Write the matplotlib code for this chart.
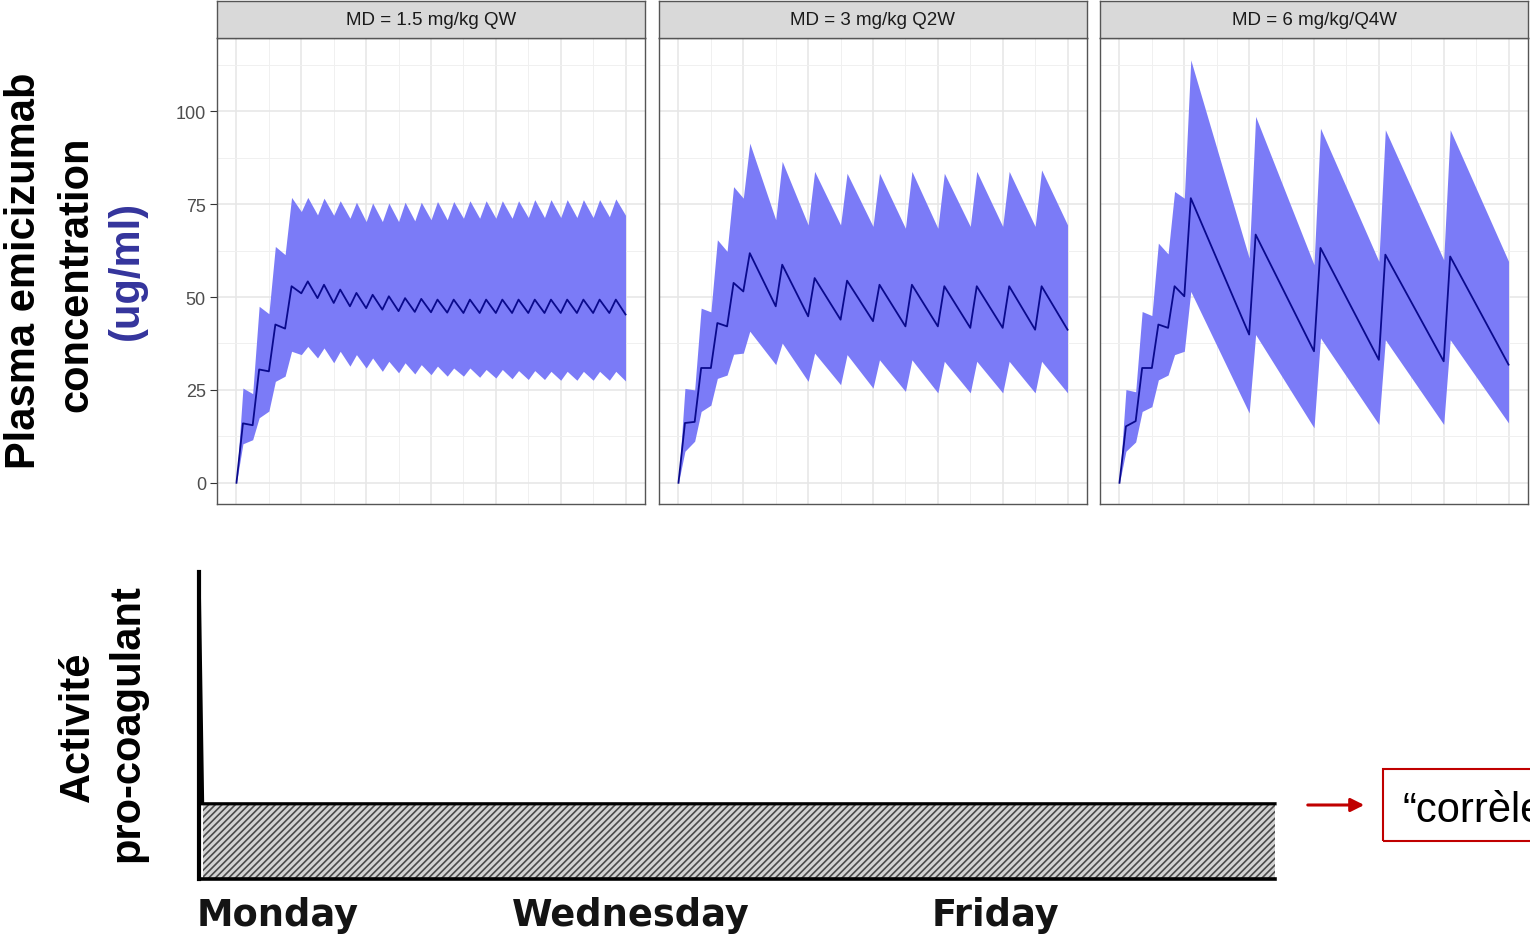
import numpy as np
import matplotlib
matplotlib.use("Agg")
import matplotlib.pyplot as plt
from matplotlib.patches import Rectangle, FancyArrowPatch
from matplotlib.ticker import MultipleLocator

plt.rcParams['font.family'] = ['Liberation Sans', 'DejaVu Sans']
plt.rcParams['hatch.linewidth'] = 1.2

# ---- top row: simulated emicizumab concentration (weeks, ug/ml) ----
panel_titles = ["MD = 1.5 mg/kg QW", "MD = 3 mg/kg Q2W", "MD = 6 mg/kg/Q4W"]

# 4 weekly loading doses, then maintenance
qw_doses = [0, 1, 2, 3, 4, 5, 6, 7, 8, 9, 10, 11, 12, 13, 14, 15, 16, 17, 18, 19, 20, 21, 22, 23]
q2w_doses = [0, 1, 2, 3, 4, 6, 8, 10, 12, 14, 16, 18, 20, 22]
q4w_doses = [0, 1, 2, 3, 4, 8, 12, 16, 20]

# value just before each dose / peak after each dose / value at week 24
qw_med_trough = [0, 15.5, 30.0, 41.5, 51.0, 49.7, 48.4, 47.5, 47.0, 46.6, 46.2, 46.0,
                 45.9, 45.8, 45.7, 45.7, 45.7, 45.7, 45.7, 45.7, 45.7, 45.7, 45.7, 45.7]
qw_med_peak = [16.0, 30.5, 42.6, 52.9, 54.2, 53.3, 52.0, 51.1, 50.6, 50.2, 49.7, 49.5,
               49.3, 49.3, 49.3, 49.3, 49.3, 49.3, 49.3, 49.3, 49.3, 49.3, 49.3, 49.3]
qw_hi_trough = [0, 24.0, 45.5, 61.4, 73.0, 72.1, 72.0, 71.2, 70.3, 70.3, 70.3, 70.5,
                70.8, 70.8, 71.2, 71.2, 71.2, 71.2, 71.4, 71.4, 71.4, 71.4, 71.4, 71.6]
qw_hi_peak = [25.5, 47.5, 63.6, 76.8, 76.8, 76.6, 75.9, 75.5, 75.3, 75.3, 75.5, 75.5,
              75.7, 75.7, 75.9, 75.9, 75.9, 75.9, 76.2, 76.2, 76.2, 76.2, 76.2, 76.4]
qw_lo_trough = [0, 11.6, 19.3, 28.7, 34.5, 33.6, 32.3, 31.4, 30.9, 30.0, 29.6, 29.3,
                29.1, 28.7, 28.7, 28.4, 28.2, 28.0, 27.8, 27.8, 27.6, 27.6, 27.6, 27.6]
qw_lo_peak = [10.5, 17.5, 27.3, 35.4, 36.7, 36.3, 35.4, 34.5, 33.6, 32.7, 32.3, 31.8,
              31.4, 30.9, 30.9, 30.5, 30.5, 30.2, 30.2, 30.0, 30.0, 30.0, 30.0, 30.0]
qw_end = [45.3, 72.0, 27.4]  # median, upper, lower

q2w_med_trough = [0, 16.4, 30.9, 42.1, 51.5, 47.5, 44.8, 43.9, 43.5, 42.1, 42.1, 41.7, 41.7, 41.2]
q2w_med_peak = [16.1, 30.9, 43.0, 53.8, 61.8, 58.7, 55.1, 54.4, 53.3, 53.3, 52.9, 52.9, 52.9, 52.9]
q2w_hi_trough = [0, 25.0, 46.0, 62.3, 76.6, 70.8, 69.4, 69.4, 69.0, 68.5, 68.5, 69.0, 69.0, 69.0]
q2w_hi_peak = [25.4, 47.0, 65.4, 79.7, 91.4, 86.5, 83.8, 83.3, 83.3, 83.8, 83.3, 83.8, 83.8, 84.2]
q2w_lo_trough = [0, 11.2, 20.9, 29.0, 34.9, 31.8, 27.3, 26.4, 25.5, 24.6, 24.2, 24.2, 24.2, 24.2]
q2w_lo_peak = [8.5, 19.2, 28.1, 34.6, 40.8, 37.6, 34.9, 34.5, 33.1, 33.1, 32.7, 32.7, 32.7, 32.7]
q2w_end = [41.2, 69.4, 24.2]

q4w_med_trough = [0, 16.6, 30.9, 41.7, 50.2, 39.9, 35.4, 33.1, 32.7]
q4w_med_peak = [15.2, 30.9, 42.6, 52.9, 76.6, 66.8, 63.2, 61.4, 60.9]
q4w_hi_trough = [0, 24.5, 45.0, 61.6, 76.6, 60.5, 58.7, 59.6, 60.0]
q4w_hi_peak = [25.1, 46.1, 64.5, 78.4, 113.8, 98.6, 95.4, 95.0, 95.0]
q4w_lo_trough = [0, 11.0, 20.5, 29.0, 35.4, 18.8, 14.8, 15.7, 15.7]
q4w_lo_peak = [8.5, 19.2, 27.7, 34.5, 51.5, 39.9, 39.0, 38.5, 38.5]
q4w_end = [31.8, 59.6, 16.1]

y_ticks = [0, 25, 50, 75, 100]

# ---- bottom row: schematic pro-coagulant activity ----
day_labels = ["Monday", "Wednesday", "Friday"]
day_ticks = [0.44, 2.41, 4.44]
activity_days = [0.0, 0.02, 6.0]
activity_level = [1.0, 0.245, 0.245]

BAND = '#7b7bf7'
LINE = '#0a0a8c'


def sawtooth(doses, troughs, peaks, end_value, t_end=24.0, lag=0.4):
    # pre-dose value at each dose, peak shortly after, last point at t_end
    t, c = [], []
    for d, lo, hi in zip(doses, troughs, peaks):
        t += [d, d + lag]
        c += [lo, hi]
    t.append(t_end)
    c.append(end_value)
    return np.array(t), np.array(c)


panels = [
    (qw_doses, qw_med_trough, qw_med_peak, qw_hi_trough, qw_hi_peak, qw_lo_trough, qw_lo_peak, qw_end),
    (q2w_doses, q2w_med_trough, q2w_med_peak, q2w_hi_trough, q2w_hi_peak, q2w_lo_trough, q2w_lo_peak, q2w_end),
    (q4w_doses, q4w_med_trough, q4w_med_peak, q4w_hi_trough, q4w_hi_peak, q4w_lo_trough, q4w_lo_peak, q4w_end),
]

W, H = 1530, 937
fig = plt.figure(figsize=(W / 100, H / 100), dpi=100)


def fx(px):
    return px / W


def fy(py):
    return 1 - py / H


panel_left = [217, 659, 1100]
for i, (doses, mtr, mpk, htr, hpk, ltr, lpk, end) in enumerate(panels):
    ax = fig.add_axes([fx(panel_left[i]), fy(505), 428 / W, 466 / H])
    t, med = sawtooth(doses, mtr, mpk, end[0])
    _, hi = sawtooth(doses, htr, hpk, end[1])
    _, lo = sawtooth(doses, ltr, lpk, end[2])
    ax.fill_between(t, lo, hi, color=BAND, lw=0, zorder=2)
    ax.plot(t, med, color=LINE, lw=1.3, zorder=3)

    ax.set_xlim(-1.2, 25.2)
    ax.set_ylim(-5.7, 119.7)
    ax.xaxis.set_major_locator(MultipleLocator(4))
    ax.xaxis.set_minor_locator(MultipleLocator(2))
    ax.set_yticks(y_ticks)
    ax.yaxis.set_minor_locator(MultipleLocator(12.5))
    ax.grid(which='major', color='#e6e6e6', lw=1.1)
    ax.grid(which='minor', color='#f0f0f0', lw=0.7)
    ax.set_axisbelow(True)
    ax.tick_params(axis='x', which='both', length=0, labelbottom=False)
    ax.tick_params(axis='y', which='minor', length=0)
    if i == 0:
        ax.tick_params(axis='y', which='major', length=5, width=0.8, color='#333333',
                       labelsize=13, labelcolor='#4d4d4d', pad=3)
    else:
        ax.tick_params(axis='y', which='major', length=0, labelleft=False)
    for sp in ax.spines.values():
        sp.set_color('#555555')
        sp.set_linewidth(1.0)

    strip = fig.add_axes([fx(panel_left[i]), fy(39), 428 / W, 37 / H])
    strip.set_facecolor('#d9d9d9')
    strip.set_xticks([])
    strip.set_yticks([])
    for sp in strip.spines.values():
        sp.set_color('#555555')
        sp.set_linewidth(1.0)
    strip.text(0.5, 0.5, panel_titles[i], ha='center', va='center',
               fontsize=13.5, color='#1a1a1a', transform=strip.transAxes)

# axis titles on the left
lab = dict(rotation=90, rotation_mode='anchor', ha='center', va='baseline',
           fontsize=30, fontweight='bold')
fig.text(fx(35.5), fy(271), "Plasma emicizumab", color='black', **lab)
fig.text(fx(87), fy(274), "concentration", color='black', **lab)
fig.text(fx(138), fy(270), "(ug/ml)", color='#34349c', **lab)
fig.text(fx(89), fy(727), "Activité", color='black', **lab)
fig.text(fx(138), fy(723), "pro-coagulant", color='black', **lab)

# bottom schematic
axb = fig.add_axes([fx(199), fy(880), 1076 / W, 307 / H])
axb.fill_between(activity_days[1:], 0, activity_level[1:], facecolor='#d2d2d2',
                 edgecolor='#4a4a4a', hatch='/////', linewidth=0, zorder=1)
axb.plot(activity_days, activity_level, color='black', lw=2.3, zorder=3,
         solid_joinstyle='miter', clip_on=False)
axb.set_xlim(0, 6)
axb.set_ylim(0, 1)
for side in ['top', 'right']:
    axb.spines[side].set_visible(False)
axb.spines['left'].set_linewidth(3)
axb.spines['bottom'].set_linewidth(2.6)
axb.set_yticks([])
axb.set_xticks(day_ticks, day_labels, fontfamily='DejaVu Sans', fontweight='bold',
               fontsize=26.5, color='#141414')
axb.tick_params(axis='x', length=0, pad=12)

# red arrow and callout, cut by the right edge as in the slide
fig.patches.append(FancyArrowPatch((fx(1305), fy(806)), (fx(1367), fy(806)),
                                   transform=fig.transFigure, arrowstyle='-|>',
                                   mutation_scale=20, lw=2.2, color='#c00000'))
fig.patches.append(Rectangle((fx(1383), fy(842)), fx(1600) - fx(1383), 72 / H,
                             transform=fig.transFigure, fill=False,
                             edgecolor='#c00000', lw=1.5))
fig.text(fx(1403), fy(822), "\u201ccorrèle", fontsize=30, color='black',
         ha='left', va='baseline')

fig.savefig('out.png', dpi=100)
